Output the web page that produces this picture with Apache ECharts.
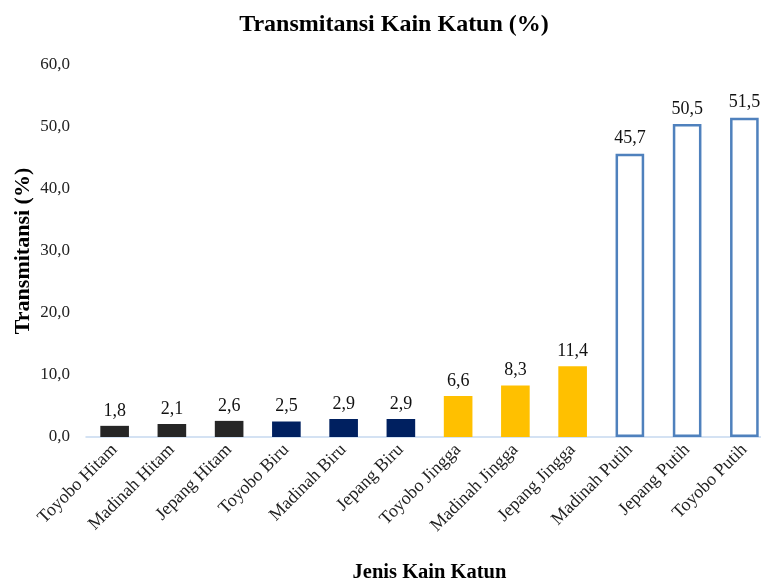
<!DOCTYPE html>
<html>
<head>
<meta charset="utf-8">
<script src="https://cdn.jsdelivr.net/npm/echarts@6/dist/echarts.min.js"></script>
<style>
  html, body { margin: 0; padding: 0; background: #fff; }
  #chart { width: 761px; height: 580px; }
</style>
</head>
<body>
<div id="chart"></div>
<script>
  // data
  var categories = ['Toyobo Hitam', 'Madinah Hitam', 'Jepang Hitam', 'Toyobo Biru', 'Madinah Biru', 'Jepang Biru',
    'Toyobo Jingga', 'Madinah Jingga', 'Jepang Jingga', 'Madinah Putih', 'Jepang Putih', 'Toyobo Putih']
  var values = [1.8, 2.1, 2.6, 2.5, 2.9, 2.9, 6.6, 8.3, 11.4, 45.7, 50.5, 51.5]
  var yTicks = [0, 10, 20, 30, 40, 50, 60]

  var serif = '"Liberation Serif", "DejaVu Serif", serif'
  var comma = function (v) { return Number(v).toFixed(1).replace('.', ',') }

  // warna per kelompok kain
  var fills = { Hitam: '#262626', Biru: '#002060', Jingga: '#FFC000', Putih: '#ffffff' }

  var barData = values.map(function (v, i) {
    var grp = categories[i].split(' ').pop()
    var style = { color: fills[grp] }
    if (grp === 'Putih') {
      style.borderColor = '#4F81BD'
      style.borderWidth = 2.5
    }
    return { value: v, itemStyle: style }
  })

  var myChart = echarts.init(document.getElementById('chart'))
  var option = {
    animation: false,
    textStyle: { fontFamily: serif },
    title: {
      text: 'Transmitansi Kain Katun (%)',
      left: 389,
      textAlign: 'center',
      top: 8,
      textStyle: { fontFamily: serif, fontSize: 24, fontWeight: 'bold', color: '#000' }
    },
    grid: {
      left: 86,
      top: 65,
      width: 687,
      bottom: 143,
      containLabel: false,
      outerBoundsMode: 'none'
    },
    xAxis: {
      type: 'category',
      data: categories,
      name: 'Jenis Kain Katun',
      nameLocation: 'middle',
      nameGap: 125,
      nameMoveOverlap: false,
      nameTextStyle: { fontFamily: serif, fontSize: 20.5, fontWeight: 'bold', color: '#000' },
      axisLine: { lineStyle: { color: '#C6D9F0', width: 1.5 } },
      axisTick: { show: false },
      axisLabel: {
        interval: 0,
        rotate: 45,
        margin: 10,
        fontFamily: serif,
        fontSize: 18,
        color: '#222'
      }
    },
    yAxis: {
      type: 'value',
      min: yTicks[0],
      max: yTicks[yTicks.length - 1],
      interval: 10,
      name: 'Transmitansi (%)',
      nameLocation: 'middle',
      nameGap: 52,
      nameMoveOverlap: false,
      nameRotate: 90,
      nameTextStyle: { fontFamily: serif, fontSize: 22, fontWeight: 'bold', color: '#000' },
      axisLine: { show: false },
      axisTick: { show: false },
      splitLine: { show: false },
      axisLabel: {
        margin: 16,
        fontFamily: serif,
        fontSize: 17,
        color: '#222',
        formatter: comma
      }
    },
    series: [{
      type: 'bar',
      data: barData,
      barWidth: '50%',
      label: {
        show: true,
        position: 'top',
        distance: 6,
        fontFamily: serif,
        fontSize: 18,
        color: '#111',
        formatter: function (p) { return comma(p.value) }
      }
    }]
  }
  myChart.setOption(option)
</script>
</body>
</html>
